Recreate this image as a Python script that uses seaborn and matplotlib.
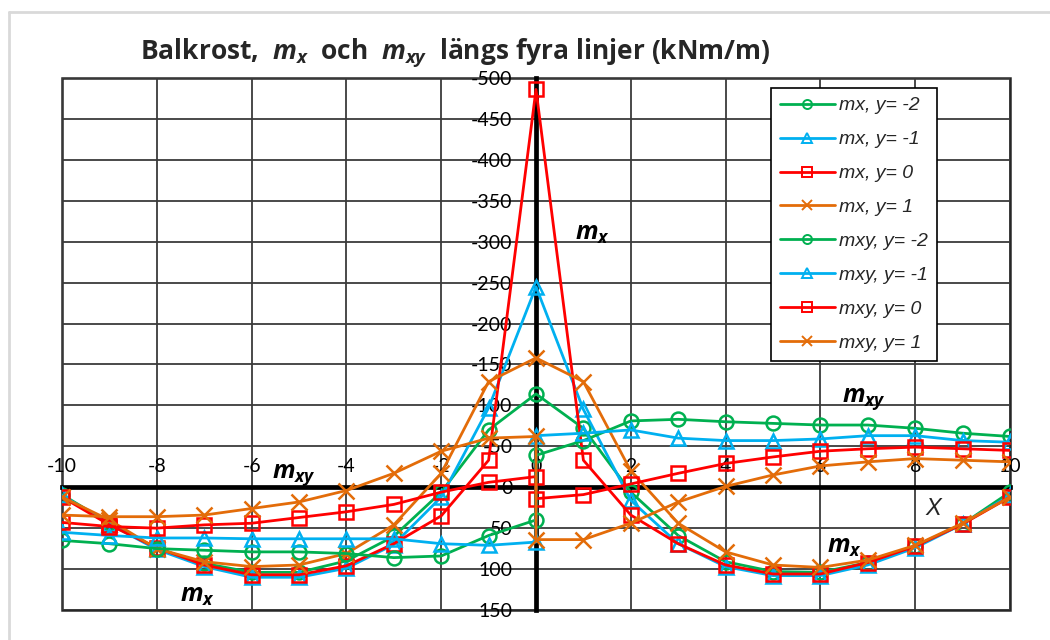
import matplotlib
matplotlib.use("Agg")
import matplotlib.pyplot as plt
import seaborn as sns
import pandas as pd
from matplotlib.lines import Line2D
from matplotlib.font_manager import FontProperties

# ---------------- data ----------------
x_mx = list(range(-10, 11))
x_mxy = list(range(-10, 1)) + list(range(0, 11))

mx_y_m2 = [9, 44, 75, 93, 104, 104, 90, 60, 6, -70, -114, -72, 6, 59, 91, 103, 104, 92, 72, 45, 6]
mx_y_m1 = [10, 45, 76, 97, 110, 110, 99, 70, 12, -97, -245, -95, 16, 69, 97, 108, 108, 95, 74, 45, 10]
mx_y_0 = [12, 46, 74, 95, 107, 107, 96, 69, 35, -33, -486, -33, 34, 69, 95, 106, 106, 92, 72, 45, 12]
mx_y_1 = [12, 40, 75, 91, 97, 95, 81, 46, -17, -129, -158, -129, -20, 44, 79, 95, 98, 89, 71, 44, 12]

mxy_y_m2 = [65, 69, 75, 77, 79, 79, 81, 86, 84, 59, 40,
            -39, -57, -81, -83, -80, -78, -76, -76, -72, -66, -62]
mxy_y_m1 = [55, 59, 62, 62, 63, 63, 63, 63, 69, 71, 67,
            -63, -66, -70, -60, -57, -57, -59, -63, -63, -57, -55]
mxy_y_0 = [43, 48, 50, 46, 44, 37, 30, 21, 6, -6, -13,
           14, 9, -4, -17, -29, -37, -44, -47, -49, -47, -45]
mxy_y_1 = [34, 36, 36, 34, 26, 18, 4, -17, -44, -60, -62,
           64, 64, 44, 18, -1, -15, -26, -31, -35, -33, -31]

labels = ["mx, y= -2", "mx, y= -1", "mx, y= 0", "mx, y= 1",
          "mxy, y= -2", "mxy, y= -1", "mxy, y= 0", "mxy, y= 1"]
x_ticks = list(range(-10, 11, 2))
y_ticks = list(range(-500, 151, 50))

title = "Balkrost,  $m_x$  och  $m_{xy}$  längs fyra linjer (kNm/m)"

# ---------------- style ----------------
colors = ["#00B050", "#00B0F0", "#FF0000", "#E36C09"]
markers = ["o", "^", "s", "x"]

sns.set_style("white")
plt.rcParams["font.family"] = ["Lato", "DejaVu Sans"]
plt.rcParams["mathtext.fontset"] = "custom"
plt.rcParams["mathtext.it"] = "Open Sans:bold:italic"
plt.rcParams["mathtext.rm"] = "Open Sans:bold"
plt.rcParams["mathtext.bf"] = "Open Sans:bold:italic"

fig = plt.figure(figsize=(10.5, 6.4), dpi=100)
fig.patch.set_facecolor("white")
ax = fig.add_axes([62 / 1050, 30 / 640, 948 / 1050, 532 / 640])

series = [(x_mx, mx_y_m2), (x_mx, mx_y_m1), (x_mx, mx_y_0), (x_mx, mx_y_1),
          (x_mxy, mxy_y_m2), (x_mxy, mxy_y_m1), (x_mxy, mxy_y_0), (x_mxy, mxy_y_1)]

for i, (xs, ys) in enumerate(series):
    c = colors[i % 4]
    m = markers[i % 4]
    df = pd.DataFrame({"x": xs, "v": ys})
    sns.lineplot(data=df, x="x", y="v", ax=ax, color=c, marker=m,
                 markersize=10 if m != "x" else 11, mfc="none", mec=c, mew=1.8,
                 lw=2.0, estimator=None, sort=False, label=labels[i], zorder=3)

ax.set_xlim(-10, 10)
ax.set_ylim(150, -500)
ax.set_xticks(x_ticks)
ax.set_xticklabels([str(v) for v in x_ticks])
ax.set_yticks(y_ticks)
ax.set_yticklabels([str(v) for v in y_ticks])
ax.set_xlabel("")
ax.set_ylabel("")

ax.grid(True, color="#3a3a3a", lw=1.3)
ax.set_axisbelow(True)

ax.spines["top"].set_position(("data", 0))
ax.spines["left"].set_position(("data", 0))
for s in ["top", "left"]:
    ax.spines[s].set_linewidth(3.4)
    ax.spines[s].set_color("black")
    ax.spines[s].set_zorder(2.5)
ax.spines["bottom"].set_visible(False)
ax.spines["right"].set_visible(False)
ax.patch.set_edgecolor("#262626")
ax.patch.set_linewidth(1.8)

ax.xaxis.set_ticks_position("top")
ax.xaxis.set_label_position("top")
ax.tick_params(axis="x", length=0, pad=9, labelsize=14, labelcolor="black")
ax.tick_params(axis="y", length=0, pad=17, labelsize=14, labelcolor="black")

# legend
h, l = ax.get_legend_handles_labels()
leg = ax.legend(h, l, loc="upper right", bbox_to_anchor=(0.923, 0.981),
                borderaxespad=0, frameon=True, fancybox=False, edgecolor="black",
                framealpha=1, prop=FontProperties(family="Liberation Sans", style="italic", size=14),
                handlelength=2.8, labelspacing=0.84, borderpad=0.45, handletextpad=0.25)
leg.get_frame().set_linewidth(1.2)
for hh in leg.legend_handles:
    hh.set_markersize(6.5)
    hh.set_markeredgewidth(1.4)

# annotations
ann_kw = dict(fontsize=18, ha="left", va="baseline", zorder=6, color="black")
ax.text(0.82, -302, "$m_x$", **ann_kw)
ax.text(-5.57, -12, "$m_{xy}$", **ann_kw)
ax.text(6.46, -104, "$m_{xy}$", **ann_kw)
ax.text(-7.51, 140, "$m_x$", **ann_kw)
ax.text(6.14, 80, "$m_x$", **ann_kw)
ax.text(8.21, 34, "X", fontsize=17, fontstyle="italic", family="Liberation Sans",
        ha="left", va="baseline", zorder=6)

# title
fig.text(140 / 1050, 1 - 59 / 640, title, fontsize=19, fontweight="bold",
         family=["Open Sans", "DejaVu Sans"], ha="left", va="baseline")

# outer chart border (light gray)
fig.add_artist(Line2D([9 / 1050, 9 / 1050], [0, 1 - 12 / 640], transform=fig.transFigure,
                      color="#D9D9D9", lw=2))
fig.add_artist(Line2D([9 / 1050, 1], [1 - 12 / 640, 1 - 12 / 640], transform=fig.transFigure,
                      color="#D9D9D9", lw=2))

fig.savefig("out.png", dpi=100)
